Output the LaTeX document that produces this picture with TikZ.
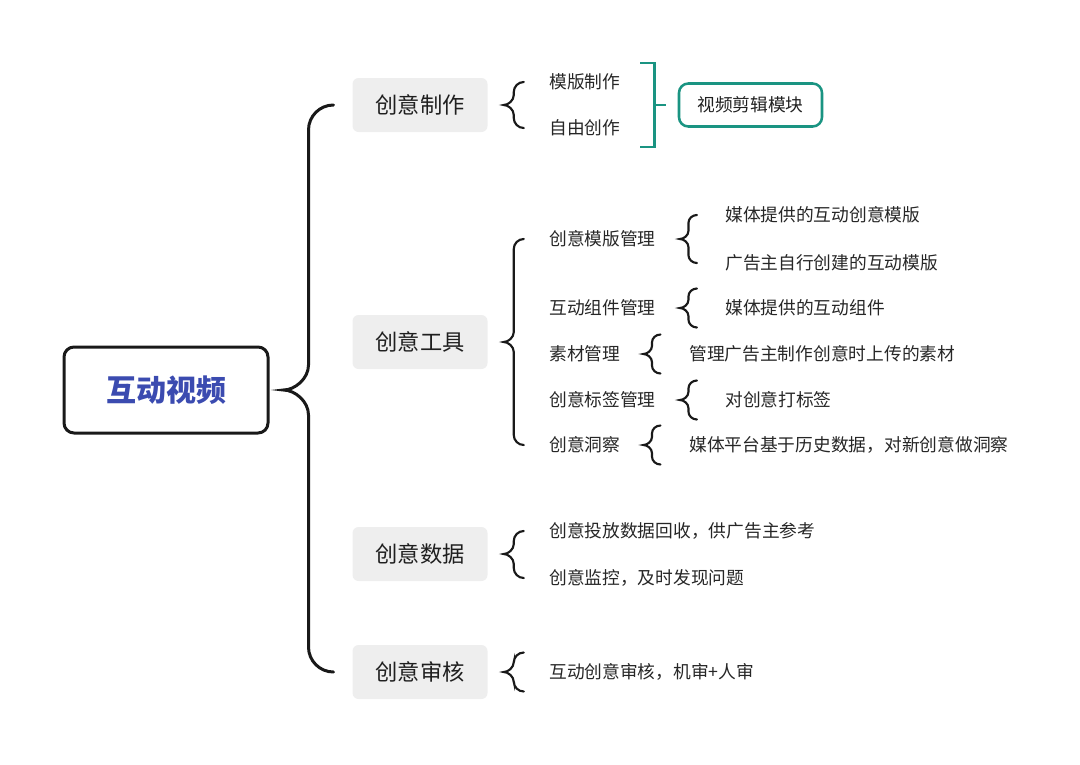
\documentclass[tikz,border=0pt]{standalone}
\usepackage{fontspec}
\newfontfamily\cjk{Noto Sans CJK SC}
\usetikzlibrary{calc}
\definecolor{rootblue}{HTML}{3B4BB0}
\definecolor{clipteal}{HTML}{1A9482}
\definecolor{catgray}{HTML}{EEEEEE}
\definecolor{inkgray}{HTML}{262626}
% curly brace: [style]{cusp}{top}{bottom}{half width}{corner}
\newcommand\curlybrace[6][]{%
  \draw[brace line,#1] ($(#2|-#3)+(2*#5,0)$) .. controls ($(#2|-#3)+(1.448*#5,0)$) and ($(#2|-#3)+(#5,0.448*#6)$) .. ($(#2|-#3)+(#5,#6)$)
    -- ($(#2)+(#5,-#6)$) .. controls ($(#2)+(#5,-0.448*#6)$) and ($(#2)+(0.448*#5,0)$) .. (#2)
    .. controls ($(#2)+(0.448*#5,0)$) and ($(#2)+(#5,0.448*#6)$) .. ($(#2)+(#5,#6)$)
    -- ($(#2|-#4)+(#5,-#6)$) .. controls ($(#2|-#4)+(#5,-0.448*#6)$) and ($(#2|-#4)+(1.448*#5,0)$) .. ($(#2|-#4)+(2*#5,0)$);}
% brace for one child only
\newcommand\singlebrace[3]{%
  \coordinate (#1-t) at ($(#1)+(0,-19.5)$);
  \coordinate (#1-b) at ($(#1)+(0,19.5)$);
  \curlybrace{#1}{#1-t}{#1-b}{#2}{#3}}
\tikzset{
  brace line/.style={line width=1.6pt,line cap=round,draw=black!90},
  big brace/.style={line width=2.25pt},
  teal line/.style={line width=1.9pt,draw=clipteal},
  rootbox/.style={draw=black!90,line width=2.25pt,rounded corners=7.5pt,minimum width=153pt,minimum height=64.5pt,
    text=rootblue,font=\cjk\bfseries\fontsize{22.5}{26}\selectfont},
  catbox/.style={fill=catgray,rounded corners=4.5pt,minimum width=101.25pt,minimum height=40.5pt,
    text=black!88,font=\cjk\fontsize{16.7}{19}\selectfont},
  clipbox/.style={draw=clipteal,line width=1.9pt,rounded corners=7pt,minimum width=107.25pt,minimum height=32.25pt,
    text=black!88,font=\cjk\fontsize{13.3}{15}\selectfont},
  leaf/.style={anchor=west,inner sep=0pt,text=inkgray,font=\cjk\fontsize{13.3}{15}\selectfont}
}
\begin{document}
\begin{tikzpicture}[x=0.75pt,y=-0.75pt]
  \useasboundingbox (0,0) rectangle (1080,764);
  % root and main branches
  \node (root) at (166,390) [rootbox] {互动视频};
  \node (make) at (420,105) [catbox] {创意制作};
  \node (tool) at (420,342) [catbox] {创意工具};
  \node (data) at (420,554) [catbox] {创意数据};
  \node (audit) at (420,672) [catbox] {创意审核};

  % 创意制作
  \node (tpl) at (549,82) [leaf] {模版制作};
  \node (free) at (549,128) [leaf] {自由创作};
  \node (clip) at (750.5,105) [clipbox] {视频剪辑模块};

  % 创意工具
  \node (tplmgr) at (549,239) [leaf] {创意模版管理};
  \node (comp) at (549,308) [leaf] {互动组件管理};
  \node (mat) at (549,354) [leaf] {素材管理};
  \node (tag) at (549,400) [leaf] {创意标签管理};
  \node (insight) at (549,445) [leaf] {创意洞察};
  \node (mediatpl) at (725,215) [leaf] {媒体提供的互动创意模版};
  \node (advtpl) at (725,263) [leaf] {广告主自行创建的互动模版};
  \node (mediacomp) at (725,308) [leaf] {媒体提供的互动组件};
  \node (upload) at (689,354) [leaf] {管理广告主制作创意时上传的素材};
  \node (tagging) at (725,400) [leaf] {对创意打标签};
  \node (predict) at (689,445) [leaf] {媒体平台基于历史数据，对新创意做洞察};

  % 创意数据, 创意审核
  \node (recall) at (549,531) [leaf] {创意投放数据回收，供广告主参考};
  \node (monitor) at (549,578) [leaf] {创意监控，及时发现问题};
  \node (review) at (549,672) [leaf] {互动创意审核，机审+人审};

  % braces
  \coordinate (rootc) at ($(root.east)+(14,0)$);
  \curlybrace[big brace]{rootc}{make}{audit}{25}{25}
  \coordinate (makec) at ($(make.east)+(16,0)$);
  \curlybrace{makec}{tpl}{free}{10}{10}
  \coordinate (toolc) at ($(tool.east)+(16,0)$);
  \curlybrace{toolc}{tplmgr}{insight}{10}{10}
  \coordinate (datac) at ($(data.east)+(16,0)$);
  \curlybrace{datac}{recall}{monitor}{10}{10}
  \coordinate (auditc) at ($(audit.east)+(16,0)$);
  \singlebrace{auditc}{10}{10}
  \coordinate (tplmgrc) at ($(tplmgr.east)+(24,0)$);
  \curlybrace{tplmgrc}{mediatpl}{advtpl}{8.5}{8}
  \coordinate (compc) at ($(comp.east)+(24,0)$);
  \singlebrace{compc}{8.5}{8}
  \coordinate (matc) at ($(mat.east)+(23,0)$);
  \singlebrace{matc}{8.5}{8}
  \coordinate (tagc) at ($(tag.east)+(24,0)$);
  \singlebrace{tagc}{8.5}{8}
  \coordinate (insightc) at ($(insight.east)+(23,0)$);
  \singlebrace{insightc}{8.5}{8}

  % bracket to the editing module
  \draw[teal line] ($(tpl.east)+(20,-19)$) -- ++(14,0) |- ($(free.east)+(20,19)$);
  \draw[teal line] ($(clip.west)+(-12,0)$) -- ++(-13,0);
\end{tikzpicture}
\end{document}
